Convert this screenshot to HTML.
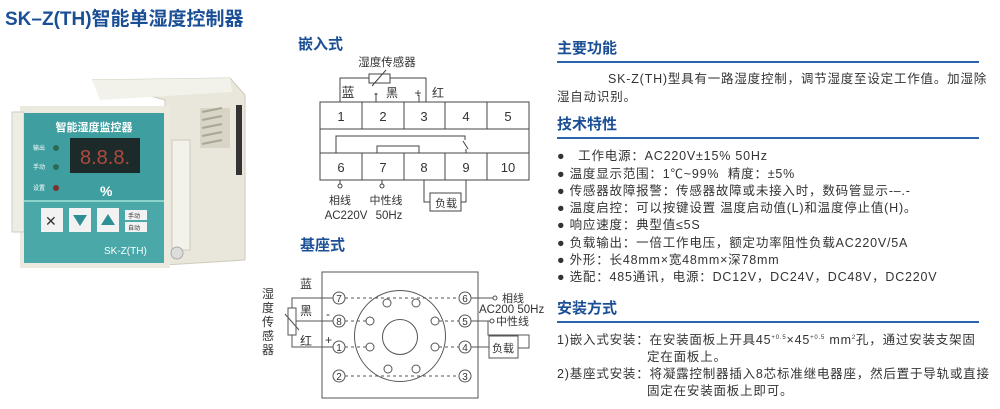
<!DOCTYPE html>
<html><head><meta charset="utf-8"><style>
body{margin:0;width:1000px;height:409px;background:#fff;position:relative;overflow:hidden;font-family:"Liberation Sans","Noto Sans CJK SC",sans-serif;color:#333}
.a{position:absolute;white-space:nowrap}
.h{font-weight:bold;color:#1a4f96;font-size:15px}
.t{font-size:12.5px;letter-spacing:0.8px;color:#333}
.ul{position:absolute;left:557px;width:422px;height:1.5px;background:#2a64b0}
svg text{font-family:"Liberation Sans","Noto Sans CJK SC",sans-serif}
</style></head><body>
<div class="a" style="left:5px;top:4px;font-size:19px;font-weight:bold;color:#1a4f96">SK–Z(TH)智能单湿度控制器</div>

<!-- device -->
<svg class="a" style="left:0;top:0" width="260" height="290">
 <polygon points="92,80 230,78 245,95 245,260 165,265 165,100" fill="#e9e7dc" stroke="#cfcabb"/>
 <polygon points="92,80 230,78 232,92 100,100" fill="#f2f1ea"/>
 <rect x="236" y="105" width="6" height="70" fill="#333"/>
 <rect x="200" y="108" width="30" height="40" fill="#d8d5c6"/>
 <g stroke="#a9a595" stroke-width="2"><line x1="202" y1="112" x2="222" y2="108"/><line x1="202" y1="120" x2="222" y2="116"/><line x1="202" y1="128" x2="222" y2="124"/><line x1="202" y1="136" x2="222" y2="132"/><line x1="202" y1="144" x2="222" y2="140"/></g>
 <rect x="172" y="140" width="18" height="110" fill="#f3f2ea" stroke="#cfcabb"/>
 <circle cx="177" cy="253" r="6" fill="#ddd" stroke="#aaa"/>
 <rect x="20" y="106" width="150" height="162" fill="#eceadf"/>
 <rect x="12" y="112" width="12" height="120" fill="#eeede4" stroke="#ccc"/>
 <rect x="24" y="113" width="140" height="150" fill="#3f9fa0"/>
 <rect x="24" y="200" width="140" height="63" fill="#4aa8a8"/>
 <line x1="24" y1="201" x2="164" y2="201" stroke="#cfe" stroke-width="1"/>
 <text x="94" y="131" font-size="11" font-weight="bold" fill="#fff" text-anchor="middle">智能湿度监控器</text>
 <rect x="70" y="138" width="70" height="35" fill="#1c2a2a"/>
 <text x="105" y="164" font-size="20" fill="#b04a40" text-anchor="middle" font-family="Liberation Mono">8.8.8.</text>
 <text x="33" y="150" font-size="6" fill="#fff">输出</text><circle cx="56" cy="148" r="3" fill="#2d6b55"/>
 <text x="33" y="169" font-size="6" fill="#fff">手动</text><circle cx="56" cy="167" r="3" fill="#2d6b55"/>
 <text x="33" y="190" font-size="6" fill="#fff">设置</text><circle cx="56" cy="188" r="3" fill="#7a3030"/>
 <text x="100" y="196" font-size="14" font-weight="bold" fill="#fff">%</text>
 <rect x="41" y="208" width="22" height="24" fill="#f2f2f2"/><text x="45" y="226" font-size="14" fill="#333">✕</text>
 <rect x="69" y="208" width="22" height="24" fill="#f2f2f2"/><polygon points="73,215 87,215 80,226" fill="#2f8f96"/>
 <rect x="97" y="208" width="22" height="24" fill="#f2f2f2"/><polygon points="101,225 115,225 108,214" fill="#2f8f96"/>
 <rect x="125" y="210" width="22" height="10" fill="#f2f2f2"/><rect x="125" y="222" width="22" height="10" fill="#f2f2f2"/>
 <text x="128" y="218" font-size="6" fill="#333">手动</text><text x="128" y="230" font-size="6" fill="#333">自动</text>
 <text x="104" y="254" font-size="10" fill="#fff">SK-Z(TH)</text>
</svg>

<!-- embedded diagram -->
<div class="a h" style="left:298px;top:33px;">嵌入式</div>
<svg class="a" style="left:0;top:0" width="560" height="409" font-size="12">
 <g stroke="#444" fill="none" stroke-width="1">
  <polyline points="340,102 340,78 369,78"/><polyline points="390,78 426,78 426,102"/>
  <rect x="369" y="74" width="21" height="9"/><line x1="372" y1="86" x2="386" y2="70"/>
  <line x1="376" y1="93" x2="376" y2="102"/><line x1="419" y1="95" x2="419" y2="102"/>
  <rect x="320" y="102" width="209" height="78"/>
  <line x1="320" y1="129" x2="529" y2="129"/><line x1="320" y1="153" x2="529" y2="153"/>
  <line x1="362" y1="102" x2="362" y2="129"/><line x1="404" y1="102" x2="404" y2="129"/><line x1="445" y1="102" x2="445" y2="129"/><line x1="487" y1="102" x2="487" y2="129"/>
  <line x1="362" y1="153" x2="362" y2="180"/><line x1="404" y1="153" x2="404" y2="180"/><line x1="445" y1="153" x2="445" y2="180"/><line x1="487" y1="153" x2="487" y2="180"/>
  <polyline points="336,153 336,136 465,136 465,140"/><line x1="463" y1="141" x2="468" y2="149"/><line x1="466" y1="149" x2="466" y2="153"/>
  <polyline points="377,153 377,146 419,146 419,153"/>
  <line x1="340" y1="180" x2="340" y2="184"/><circle cx="340" cy="186" r="2"/>
  <line x1="382" y1="180" x2="382" y2="184"/><circle cx="382" cy="186" r="2"/>
  <polyline points="424,180 424,202 430,202"/><polyline points="466,180 466,202 461,202"/>
  <rect x="430" y="193" width="31" height="18"/>
 </g>
 <g fill="#333" text-anchor="middle">
  <text x="387" y="66" font-size="11.5">湿度传感器</text>
  <text x="348" y="97" font-size="13">蓝</text><text x="376" y="97">-</text><text x="392" y="97">黑</text><text x="418" y="97">+</text><text x="438" y="97">红</text>
  <text x="341" y="121" font-size="13">1</text><text x="383" y="121" font-size="13">2</text><text x="424" y="121" font-size="13">3</text><text x="466" y="121" font-size="13">4</text><text x="508" y="121" font-size="13">5</text>
  <text x="341" y="172" font-size="13">6</text><text x="383" y="172" font-size="13">7</text><text x="424" y="172" font-size="13">8</text><text x="466" y="172" font-size="13">9</text><text x="508" y="172" font-size="13">10</text>
  <text x="340" y="204" font-size="11">相线</text><text x="386" y="204" font-size="11">中性线</text>
  <text x="346" y="219" font-size="11.5">AC220V</text><text x="389" y="219" font-size="11.5">50Hz</text>
  <text x="446" y="207" font-size="11">负载</text>
 </g>
 <!-- base -->
 <g stroke="#555" fill="none" stroke-width="1">
  <rect x="322" y="272" width="156" height="126"/>
  <circle cx="400" cy="336" r="45.5"/>
  <circle cx="400" cy="337" r="17.5"/>
  <g stroke-dasharray="3,3"><line x1="345" y1="298" x2="459" y2="298"/><line x1="345" y1="321" x2="366" y2="321"/><line x1="439" y1="321" x2="459" y2="321"/><line x1="345" y1="347" x2="366" y2="347"/><line x1="439" y1="347" x2="459" y2="347"/><line x1="345" y1="376" x2="459" y2="376"/></g>
  <g fill="#fff"><circle cx="339" cy="298" r="6"/><circle cx="465" cy="298" r="6"/><circle cx="339" cy="321" r="6"/><circle cx="465" cy="321" r="6"/><circle cx="339" cy="347" r="6"/><circle cx="465" cy="347" r="6"/><circle cx="339" cy="376" r="6"/><circle cx="465" cy="376" r="6"/>
  <circle cx="387" cy="303" r="4"/><circle cx="416" cy="303" r="4"/><circle cx="370" cy="321" r="4"/><circle cx="435" cy="321" r="4"/><circle cx="370" cy="347" r="4"/><circle cx="435" cy="347" r="4"/><circle cx="388" cy="369" r="4"/><circle cx="416" cy="369" r="4"/></g>
  <polyline points="333,298 292,298 292,308"/><rect x="288" y="308" width="8" height="27"/><polyline points="292,335 292,347 333,347"/>
  <line x1="296" y1="321" x2="333" y2="321"/><line x1="285" y1="314" x2="299" y2="330"/>
  <line x1="471" y1="298" x2="493" y2="298"/><circle cx="495" cy="298" r="2"/>
  <line x1="471" y1="321" x2="490" y2="321"/><circle cx="492" cy="321" r="2"/>
  <polyline points="488,321 488,335 529,335 529,348 518,348"/>
  <line x1="471" y1="347" x2="489" y2="347"/><rect x="489" y="336" width="29" height="22"/>
 </g>
 <g fill="#333" text-anchor="middle" font-size="10">
  <text x="339" y="302">7</text><text x="465" y="302">6</text><text x="339" y="325">8</text><text x="465" y="325">5</text><text x="339" y="351">1</text><text x="465" y="351">4</text><text x="339" y="380">2</text><text x="465" y="380">3</text>
 </g>
 <g fill="#333" font-size="12">
  <text x="300" y="288">蓝</text><text x="300" y="315">黑</text><text x="300" y="345">红</text>
  <text x="326" y="318">-</text><text x="325" y="344">+</text>
  <text x="262" y="298">湿</text><text x="262" y="312">度</text><text x="262" y="326">传</text><text x="262" y="340">感</text><text x="262" y="354">器</text>
  <text x="502" y="302" font-size="11">相线</text><text x="479" y="313" font-size="11.5">AC200 50Hz</text><text x="496" y="325" font-size="11">中性线</text>
  <text x="492" y="352" font-size="11">负载</text>
 </g>
 <text x="300" y="250" font-size="15" font-weight="bold" fill="#1a4f96">基座式</text>
</svg>

<!-- right text -->
<div class="a h" style="left:557px;top:37px">主要功能</div><div class="ul" style="top:61px"></div>
<div class="a t" style="left:608px;top:68px">SK-Z(TH)型具有一路湿度控制，调节湿度至设定工作值。加湿除</div>
<div class="a t" style="left:557px;top:86px">湿自动识别。</div>
<div class="a h" style="left:557px;top:113px">技术特性</div><div class="ul" style="top:137px"></div>
<div class="a t" style="left:557px;top:145px">●&nbsp;&nbsp; 工作电源：AC220V±15% 50Hz</div>
<div class="a t" style="left:557px;top:163px">● 温度显示范围：1℃~99%&nbsp; 精度：±5%</div>
<div class="a t" style="left:557px;top:180px">● 传感器故障报警：传感器故障或未接入时，数码管显示-–.-</div>
<div class="a t" style="left:557px;top:197px">● 温度启控：可以按键设置 温度启动值(L)和温度停止值(H)。</div>
<div class="a t" style="left:557px;top:214px">● 响应速度：典型值≤5S</div>
<div class="a t" style="left:557px;top:232px">● 负载输出：一倍工作电压，额定功率阻性负载AC220V/5A</div>
<div class="a t" style="left:557px;top:249px">● 外形：长48mm×宽48mm×深78mm</div>
<div class="a t" style="left:557px;top:266px">● 选配：485通讯，电源：DC12V，DC24V，DC48V，DC220V</div>
<div class="a h" style="left:557px;top:297px">安装方式</div><div class="ul" style="top:321px"></div>
<div class="a t" style="left:557px;top:329px">1)嵌入式安装：在安装面板上开具45<sup style="font-size:6px">+0.5</sup>×45<sup style="font-size:6px">+0.5</sup> mm<sup style="font-size:6px">2</sup>孔，通过安装支架固</div>
<div class="a t" style="left:647px;top:346px">定在面板上。</div>
<div class="a t" style="left:557px;top:363px">2)基座式安装：将凝露控制器插入8芯标准继电器座，然后置于导轨或直接</div>
<div class="a t" style="left:647px;top:380px">固定在安装面板上即可。</div>
</body></html>
